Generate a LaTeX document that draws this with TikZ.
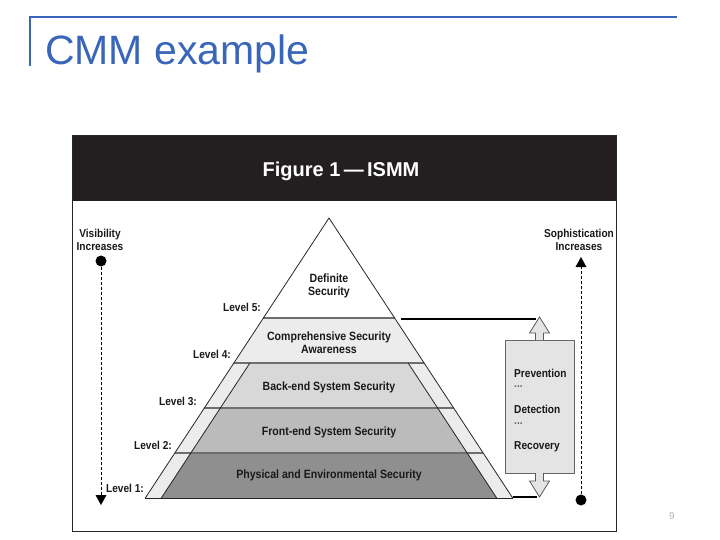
\documentclass[tikz,border=0pt]{standalone}
\usepackage{fontspec}
\setmainfont{Liberation Sans}
\newfontfamily\condf[FakeStretch=0.88]{Liberation Sans}
\definecolor{titleblue}{RGB}{58,102,185}
\definecolor{hdr}{RGB}{35,31,32}
\definecolor{lvfour}{RGB}{236,236,236}
\definecolor{lvthree}{RGB}{216,216,216}
\definecolor{lvtwo}{RGB}{187,187,187}
\definecolor{lvone}{RGB}{143,143,143}
\definecolor{sepline}{RGB}{110,110,110}
\definecolor{boxfill}{RGB}{228,228,228}
\begin{document}
\begin{tikzpicture}[x=1pt,y=-1pt,
  lab/.style={font=\condf\bfseries\fontsize{11.5}{13}\selectfont, text=black!90, inner sep=0, align=center},
  laytext/.style={font=\condf\bfseries\fontsize{12}{13}\selectfont, text=black!90, inner sep=0, align=center},
  lvl/.style={lab, anchor=east},
  sep/.style={draw=sepline, line width=1.1pt},
  edge/.style={draw=black!85, line width=0.8pt},
  blockarrow/.style={fill=boxfill, draw=black!65, line width=0.8pt},
  thickline/.style={draw=black, line width=2.5pt}]
\useasboundingbox (0,0) rectangle (720,540);

% slide title
\draw[titleblue, line width=2.5pt] (30,66) -- (30,17) -- (677,17);
\node[anchor=base west, inner sep=0, text=titleblue, font=\fontsize{41}{41}\selectfont] (title) at (45,65) {CMM example};

% figure frame and header
\fill[hdr] (72,136) rectangle (616,201);
\draw[black!85, line width=1pt] (72,136) rectangle (616,531);
\node[text=white, font=\bfseries\fontsize{20}{20}\selectfont, inner sep=0] (hdrtext) at (341,171) {Figure 1\,—\,ISMM};

% pyramid
\coordinate (apex) at (329,218);
\coordinate (o5l) at (263.4,318); \coordinate (o5r) at (394.6,318);
\coordinate (o4l) at (233.9,363); \coordinate (o4r) at (424.1,363);
\coordinate (o3l) at (204.4,408); \coordinate (o3r) at (453.6,408);
\coordinate (o2l) at (174.8,453); \coordinate (o2r) at (483.2,453);
\coordinate (o1l) at (145.3,498); \coordinate (o1r) at (512.7,498);
\coordinate (i4l) at (249.9,363); \coordinate (i4r) at (408.1,363);
\coordinate (i3l) at (220.4,408); \coordinate (i3r) at (437.6,408);
\coordinate (i2l) at (190.8,453); \coordinate (i2r) at (467.2,453);
\coordinate (i1l) at (161.3,498); \coordinate (i1r) at (496.7,498);

\fill[white] (apex) -- (o5r) -- (o5l) -- cycle;
\fill[lvfour] (o5l) -- (o5r) -- (o1r) -- (o1l) -- cycle;
\fill[lvthree] (i4l) -- (i4r) -- (i3r) -- (i3l) -- cycle;
\fill[lvtwo] (i3l) -- (i3r) -- (i2r) -- (i2l) -- cycle;
\fill[lvone] (i2l) -- (i2r) -- (i1r) -- (i1l) -- cycle;

\draw[sep] (o4l) -- (o4r);
\draw[sep] (o3l) -- (o3r);
\draw[sep] (o2l) -- (o2r);
\draw[sepline, line width=2pt] (o5l) -- (o5r);
\draw[edge] (i4l) -- (i1l);
\draw[edge] (i4r) -- (i1r);
\draw[edge] (o1l) -- (apex) -- (o1r);
\draw[edge] (o1l) -- (o1r);

% layer texts
\node[laytext] (l5) at (329,286) {Definite\\Security};
\node[laytext] (l4) at (329,343) {Comprehensive Security\\Awareness};
\node[laytext] (l3) at (329,387) {Back-end System Security};
\node[laytext] (l2) at (329,432) {Front-end System Security};
\node[laytext] (l1) at (329,475) {Physical and Environmental Security};

% level labels
\node[lvl] (lab5) at (261,307) {Level 5:};
\node[lvl] (lab4) at (231,354) {Level 4:};
\node[lvl] (lab3) at (197,401) {Level 3:};
\node[lvl] (lab2) at (172,445) {Level 2:};
\node[lvl] (lab1) at (144,488) {Level 1:};

% visibility indicator
\node[lab] (vis) at (100,240) {Visibility\\Increases};
\node[circle, fill=black, inner sep=0, minimum size=11pt] (visdot) at (101,261) {};
\coordinate (visend) at (101,495);
\draw[dashed, line width=0.7pt, dash pattern=on 3pt off 2pt] (visdot) -- (visend);
\fill ([xshift=-5.5pt]visend) -- ([xshift=5.5pt]visend) -- ([yshift=-10pt]visend) -- cycle;

% sophistication indicator
\node[lab] (soph) at (579,240) {Sophistication\\Increases};
\node[circle, fill=black, inner sep=0, minimum size=11pt] (sophdot) at (581,500) {};
\coordinate (sophend) at (581,267);
\draw[dashed, line width=0.7pt, dash pattern=on 3pt off 2pt] (sophdot) -- (sophend);
\fill ([xshift=-5.5pt]sophend) -- ([xshift=5.5pt]sophend) -- ([yshift=10pt]sophend) -- cycle;

% prevention box
\node[draw=black!60, fill=boxfill, line width=0.8pt, minimum width=69pt, minimum height=133pt, inner sep=0] (pdr) at (539.5,406.5) {};
\node[lab, anchor=west, align=left] (prev) at (514,373) {Prevention};
\node[lab, anchor=west, align=left, text=black!60] (dots1) at (514,387) {...};
\node[lab, anchor=west, align=left] (det) at (514,409) {Detection};
\node[lab, anchor=west, align=left, text=black!60] (dots2) at (514,424) {...};
\node[lab, anchor=west, align=left] (rec) at (514,447) {Recovery};

% block arrows
\draw[blockarrow] (535.5,340) -- (535.5,333) -- (529.5,333) -- (539.5,317) -- (549.5,333) -- (543.5,333) -- (543.5,340);
\draw[blockarrow] (535.5,473) -- (535.5,481) -- (529.5,481) -- (539.5,497) -- (549.5,481) -- (543.5,481) -- (543.5,473);
\coordinate (toptip) at (536,319);
\coordinate (topstart) at (401,319);
\draw[thickline] (topstart) -- (toptip);
\coordinate (botstart) at (513,497);
\coordinate (bottip) at (537,497);
\draw[thickline] (botstart) -- (bottip);

% page number
\node[text=black!30, font=\fontsize{10}{10}\selectfont, inner sep=0] (pnum) at (672,516) {9};
\end{tikzpicture}
\end{document}
